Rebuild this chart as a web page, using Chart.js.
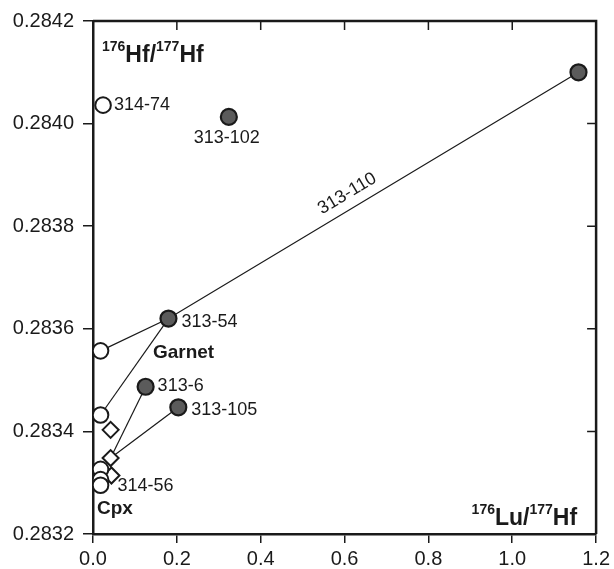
<!DOCTYPE html>
<html>
<head>
<meta charset="utf-8">
<script src="https://cdn.jsdelivr.net/npm/chart.js@4"></script>
<style>
  html, body { margin: 0; padding: 0; background: #fff; }
  #wrap { width: 614px; height: 569px; }
</style>
</head>
<body>
<div id="wrap"><canvas id="myChart" width="614" height="569"></canvas></div>
<script>
// garnet (filled circles)
const garnetNames = ['313-110', '313-102', '313-54', '313-6', '313-105'];
const garnetLuHf = [1.158, 0.324, 0.180, 0.1255, 0.2035];
const garnetHfHf = [0.28410, 0.284013, 0.28362, 0.283487, 0.283447];

// cpx (open circles)
const cpxNames = ['314-74', '', '', '', '', ''];
const cpxLuHf = [0.024, 0.018, 0.018, 0.018, 0.018, 0.018];
const cpxHfHf = [0.284036, 0.283557, 0.283432, 0.283326, 0.283306, 0.283295];

// open diamonds
const diamondNames = ['', '', '314-56'];
const diamondLuHf = [0.042, 0.042, 0.044];
const diamondHfHf = [0.283403, 0.283348, 0.283314];

// tie lines (g = garnet, c = cpx, d = diamond)
const tieLines = [['g0', 'g2', 'c1'], ['g2', 'c2'], ['g3', 'd1'], ['g4', 'd1']];

const xTicks = [0.0, 0.2, 0.4, 0.6, 0.8, 1.0, 1.2];
const yTicks = [0.2832, 0.2834, 0.2836, 0.2838, 0.2840, 0.2842];

const FONT = "'Liberation Sans', Arial, Helvetica, sans-serif";
const INK = '#1a1a1a';

const groups = {
    g: { x: garnetLuHf, y: garnetHfHf },
    c: { x: cpxLuHf, y: cpxHfHf },
    d: { x: diamondLuHf, y: diamondHfHf }
};
function pt(key) {
    const g = groups[key[0]], i = +key.slice(1);
    return { x: g.x[i], y: g.y[i] };
}
const toPoints = (xs, ys) => xs.map((v, i) => ({ x: v, y: ys[i] }));

const datasets = [];
tieLines.forEach(t => {
    datasets.push({
        type: 'line',
        data: t.map(pt),
        borderColor: INK,
        borderWidth: 1.2,
        pointRadius: 0,
        fill: false,
        order: 5
    });
});
datasets.push({
    data: toPoints(cpxLuHf, cpxHfHf),
    pointStyle: 'circle',
    pointRadius: 7.8,
    backgroundColor: '#ffffff',
    borderColor: INK,
    borderWidth: 2,
    order: 2
});
datasets.push({
    data: toPoints(diamondLuHf, diamondHfHf),
    pointStyle: 'rectRot',
    pointRadius: 8,
    backgroundColor: '#ffffff',
    borderColor: INK,
    borderWidth: 2,
    order: 2
});
datasets.push({
    data: toPoints(garnetLuHf, garnetHfHf),
    pointStyle: 'circle',
    pointRadius: 8,
    backgroundColor: '#5b5b5b',
    borderColor: INK,
    borderWidth: 2.2,
    order: 1
});

// where sample labels sit relative to their point (pixels)
const noteOffsets = {
    g1: { dx: -2, dy: 21, align: 'center' },
    g2: { dx: 13, dy: 3, align: 'left' },
    g3: { dx: 12, dy: -1, align: 'left' },
    g4: { dx: 13, dy: 3, align: 'left' },
    c0: { dx: 11, dy: 0, align: 'left' },
    d2: { dx: 6, dy: 11, align: 'left' }
};

function richText(ctx, parts, x, y, alignRight) {
    const big = 'bold 23px ' + FONT, small = 'bold 14px ' + FONT;
    let w = 0;
    parts.forEach(p => { ctx.font = p.sup ? small : big; w += ctx.measureText(p.t).width; });
    let cx = alignRight ? x - w : x;
    ctx.textAlign = 'left';
    ctx.textBaseline = 'alphabetic';
    parts.forEach(p => {
        ctx.font = p.sup ? small : big;
        ctx.fillText(p.t, cx, p.sup ? y - 11 : y);
        cx += ctx.measureText(p.t).width;
    });
}

const framePlugin = {
    id: 'frame',
    afterDraw(chart) {
        const ctx = chart.ctx, a = chart.chartArea;
        const xs = chart.scales.x, ys = chart.scales.y;
        ctx.save();
        ctx.strokeStyle = INK;
        // top & right border
        ctx.lineWidth = 2.5;
        ctx.beginPath();
        ctx.moveTo(a.left, a.top);
        ctx.lineTo(a.right, a.top);
        ctx.lineTo(a.right, a.bottom);
        ctx.stroke();
        // inward ticks
        ctx.lineWidth = 1.5;
        ctx.beginPath();
        xTicks.forEach(v => {
            const px = xs.getPixelForValue(v);
            ctx.moveTo(px, a.top);
            ctx.lineTo(px, a.top + 9);
        });
        yTicks.forEach(v => {
            const py = ys.getPixelForValue(v);
            ctx.moveTo(a.right, py);
            ctx.lineTo(a.right - 9, py);
        });
        ctx.stroke();

        ctx.fillStyle = INK;
        // sample labels
        ctx.font = '18px ' + FONT;
        ctx.textBaseline = 'middle';
        const names = { g: garnetNames, c: cpxNames, d: diamondNames };
        Object.keys(noteOffsets).forEach(k => {
            const p = pt(k), o = noteOffsets[k];
            const name = names[k[0]][+k.slice(1)];
            ctx.textAlign = o.align;
            ctx.fillText(name, xs.getPixelForValue(p.x) + o.dx, ys.getPixelForValue(p.y) + o.dy);
        });

        // 313-110 along its tie line
        const p0 = pt('g0'), p1 = pt('g2');
        const ax = xs.getPixelForValue(p0.x), ay = ys.getPixelForValue(p0.y);
        const bx = xs.getPixelForValue(p1.x), by = ys.getPixelForValue(p1.y);
        const ang = Math.atan2(ay - by, ax - bx);
        const t = 0.545;
        const mx = ax + (bx - ax) * t, my = ay + (by - ay) * t;
        ctx.save();
        ctx.translate(mx + Math.sin(ang) * 15, my - Math.cos(ang) * 15);
        ctx.rotate(ang);
        ctx.textAlign = 'center';
        ctx.fillText(garnetNames[0], 0, 0);
        ctx.restore();

        // group names
        ctx.font = 'bold 19px ' + FONT;
        ctx.textAlign = 'left';
        ctx.fillText('Garnet', xs.getPixelForValue(0.143), ys.getPixelForValue(0.283553));
        ctx.fillText('Cpx', xs.getPixelForValue(0.0094), ys.getPixelForValue(0.283249));

        // axis titles inside the frame
        richText(ctx, [{ t: '176', sup: true }, { t: 'Hf/' }, { t: '177', sup: true }, { t: 'Hf' }],
            a.left + 9, a.top + 41, false);
        richText(ctx, [{ t: '176', sup: true }, { t: 'Lu/' }, { t: '177', sup: true }, { t: 'Hf' }],
            a.right - 19, a.bottom - 9, true);
        ctx.restore();
    }
};

const ctx = document.getElementById('myChart').getContext('2d');
const myChart = new Chart(ctx, {
    type: 'scatter',
    data: { datasets: datasets },
    options: {
        responsive: false,
        animation: false,
        events: [],
        layout: { padding: { top: 21, right: 8, left: 0, bottom: 0 } },
        plugins: { legend: { display: false }, tooltip: { enabled: false } },
        scales: {
            x: {
                type: 'linear',
                min: 0, max: 1.2,
                afterFit: s => { s.height = 35; },
                afterBuildTicks: s => { s.ticks = xTicks.map(v => ({ value: v })); },
                border: { display: true, color: INK, width: 2.5 },
                grid: { drawOnChartArea: false, drawTicks: true, tickLength: 9, color: INK, lineWidth: 1.5 },
                ticks: {
                    color: INK, padding: 4,
                    font: { family: FONT, size: 20 },
                    callback: v => Number(v).toFixed(1)
                }
            },
            y: {
                type: 'linear',
                min: 0.2832, max: 0.2842,
                afterFit: s => { s.width = 93; },
                afterBuildTicks: s => { s.ticks = yTicks.map(v => ({ value: v })); },
                border: { display: true, color: INK, width: 2.5 },
                grid: { drawOnChartArea: false, drawTicks: true, tickLength: 10, color: INK, lineWidth: 1.5 },
                ticks: {
                    color: INK, padding: 9,
                    font: { family: FONT, size: 20 },
                    callback: v => Number(v).toFixed(4)
                }
            }
        }
    },
    plugins: [framePlugin]
});
</script>
</body>
</html>
